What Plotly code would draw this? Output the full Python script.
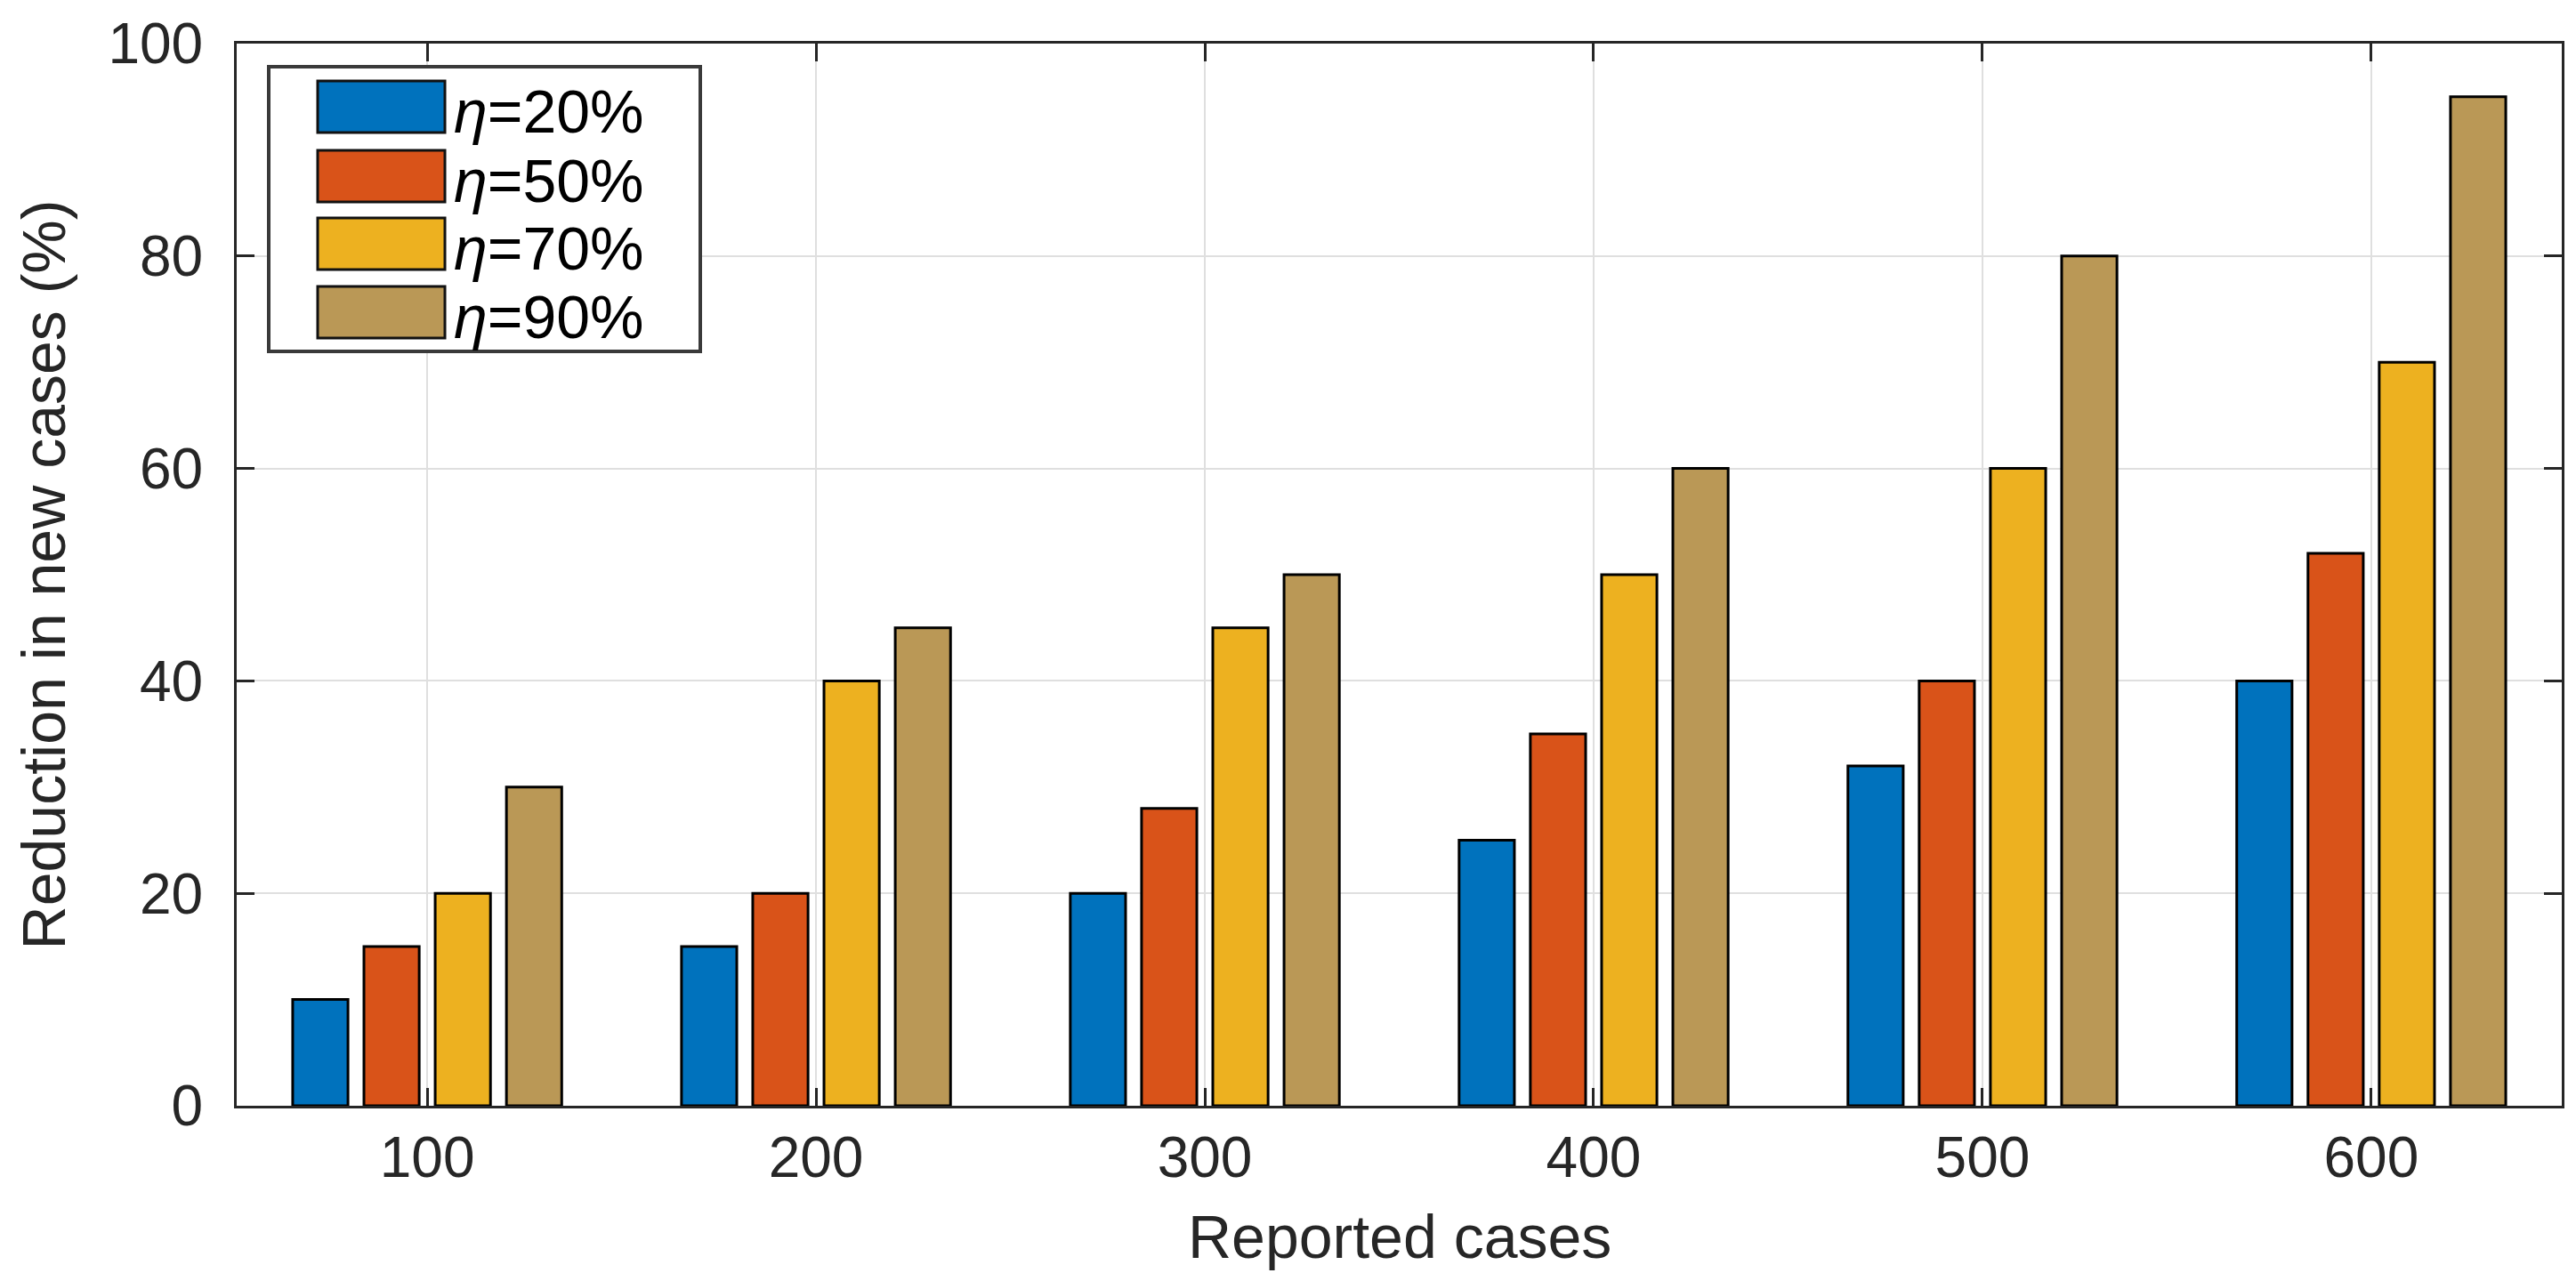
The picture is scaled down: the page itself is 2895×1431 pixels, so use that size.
import plotly.graph_objects as go

categories = ["100", "200", "300", "400", "500", "600"]
series_names = ["η=20%", "η=50%", "η=70%", "η=90%"]
eta20 = [10, 15, 20, 25, 32, 40]
eta50 = [15, 20, 28, 35, 40, 52]
eta70 = [20, 40, 45, 50, 60, 70]
eta90 = [30, 45, 50, 60, 80, 95]
colors = ["#0072BD", "#D95319", "#EDB120", "#BA9856"]
y_ticks = [0, 20, 40, 60, 80, 100]
x_title = "Reported cases"
y_title = "Reduction in new cases (%)"

W, H = 2895, 1431
L, R, T, B = 258, 2871, 41, 1235

series = [eta20, eta50, eta70, eta90]
fig = go.Figure()
for name, vals, col in zip(series_names, series, colors):
    fig.add_trace(go.Bar(
        x=categories, y=vals, name=name, showlegend=False,
        marker=dict(color=col, line=dict(color="#000000", width=3)),
    ))

def px_x(x):
    return (x - L) / (R - L)

def px_y(y):
    return (B - y) / (B - T)

txt = "#262626"
shapes = []
annotations = []
# legend box
shapes.append(dict(type="rect", xref="paper", yref="paper",
                   x0=px_x(294), x1=px_x(779), y0=px_y(387), y1=px_y(67),
                   line=dict(color="#3a3a3a", width=4), fillcolor="white", layer="above"))
row_centers = [112, 190, 266, 343]
for name, col, yc in zip(series_names, colors, row_centers):
    shapes.append(dict(type="rect", xref="paper", yref="paper",
                       x0=px_x(349), x1=px_x(492), y0=px_y(yc + 29), y1=px_y(yc - 29),
                       line=dict(color="#111111", width=3), fillcolor=col, layer="above"))
    sym, rest = name.split("=")
    annotations.append(dict(xref="paper", yref="paper", x=px_x(500), y=px_y(yc + 5),
                            xanchor="left", yanchor="middle", showarrow=False,
                            text=f"<i>{sym}</i>={rest}",
                            font=dict(family="Liberation Sans", size=68, color="#000000")))
# x axis title
annotations.append(dict(xref="paper", yref="paper", x=0.5, y=px_y(1382),
                        xanchor="center", yanchor="middle", showarrow=False,
                        text=x_title, font=dict(family="Liberation Sans", size=68, color=txt)))

fig.update_layout(
    width=W, height=H,
    margin=dict(l=L, r=W - R, t=T, b=H - B, autoexpand=False),
    paper_bgcolor="white", plot_bgcolor="white",
    barmode="group", bargap=0.267, bargroupgap=0.224,
    font=dict(family="Liberation Sans", size=64, color=txt),
    shapes=shapes, annotations=annotations,
)
fig.update_xaxes(
    type="category", range=[-0.49, 5.49],
    showline=True, linecolor=txt, linewidth=3, mirror="ticks",
    ticks="inside", ticklen=20, tickwidth=3, tickcolor=txt,
    showgrid=True, gridcolor="#dfdfdf", gridwidth=2,
    tickfont=dict(size=64, color=txt), ticklabelstandoff=0,
    automargin=False,
)
fig.update_yaxes(
    range=[0, 100], tickvals=y_ticks,
    showline=True, linecolor=txt, linewidth=3, mirror="ticks",
    ticks="inside", ticklen=20, tickwidth=3, tickcolor=txt,
    showgrid=True, gridcolor="#dfdfdf", gridwidth=2, zeroline=False,
    tickfont=dict(size=64, color=txt), ticklabelstandoff=22,
    title=dict(text=y_title, font=dict(size=68, color=txt), standoff=26),
    automargin=False,
)
fig.write_html("out.html")
